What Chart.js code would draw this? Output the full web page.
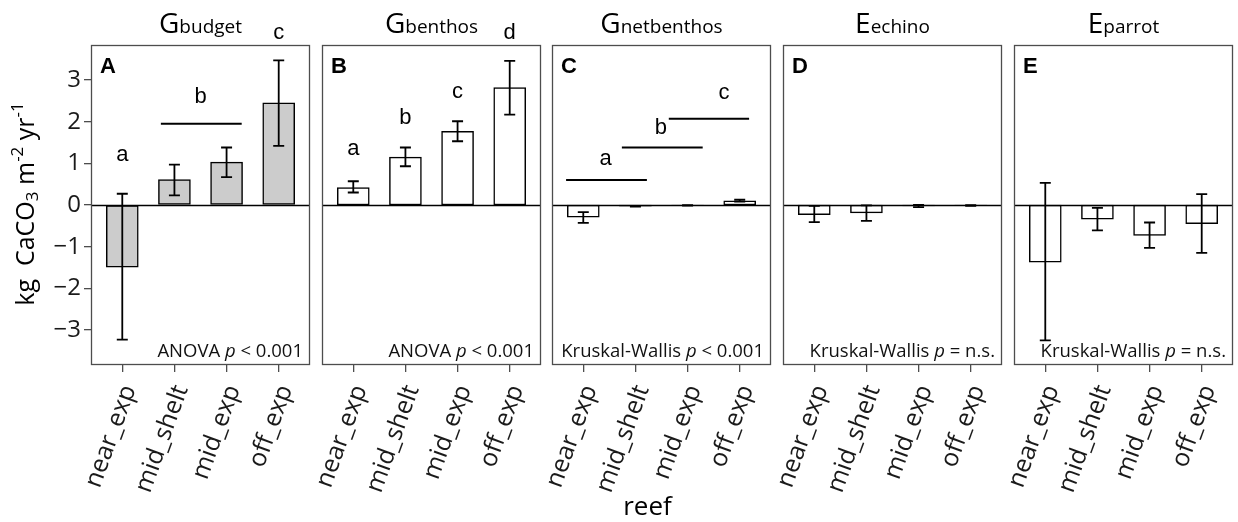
<!DOCTYPE html>
<html>
<head>
<meta charset="utf-8">
<script src="https://cdn.jsdelivr.net/npm/chart.js@4/dist/chart.umd.min.js"></script>
<style>
  html, body { margin: 0; padding: 0; background: #fff; }
  #wrap { position: relative; width: 1238px; height: 522px; overflow: hidden; }
  #wrap canvas { position: absolute; top: 0; }
</style>
</head>
<body>
<div id="wrap"></div>
<script>
// ── DATA ─────────────────────────────────────────────────────
const reefs = ['near_exp', 'mid_shelt', 'mid_exp', 'off_exp'];
const yTicks = [-3, -2, -1, 0, 1, 2, 3];

// A  G budget
const budgetMean = [-1.49, 0.61, 1.03, 2.45];
const budgetLo   = [-3.23, 0.23, 0.67, 1.42];
const budgetHi   = [ 0.27, 0.97, 1.38, 3.47];
// B  G benthos
const benthosMean = [0.42, 1.15, 1.77, 2.82];
const benthosLo   = [0.30, 0.93, 1.53, 2.17];
const benthosHi   = [0.57, 1.38, 2.01, 3.46];
// C  G netbenthos
const netMean = [-0.29, -0.03, -0.01, 0.10];
const netLo   = [-0.43, -0.04, -0.015, 0.08];
const netHi   = [-0.17, -0.02, -0.005, 0.13];
// D  E echino
const echinoMean = [-0.23, -0.19, -0.02, -0.01];
const echinoLo   = [-0.41, -0.38, -0.05, -0.02];
const echinoHi   = [-0.02, -0.01,  0.00, -0.005];
// E  E parrot
const parrotMean = [-1.37, -0.34, -0.73, -0.45];
const parrotLo   = [-3.25, -0.61, -1.03, -1.15];
const parrotHi   = [ 0.53, -0.07, -0.42,  0.26];

// group letters (x in category units, y in data units = text centre)
const budgetLetters = ['a', 'b', 'c'];
const budgetLetterX = [1, 2.5, 4];
const budgetLetterY = [1.21, 2.6, 4.12];
const budgetLineX1 = [1.74];
const budgetLineX2 = [3.29];
const budgetLineY  = [1.95];

const benthosLetters = ['a', 'b', 'c', 'd'];
const benthosLetterX = [1, 2, 3, 4];
const benthosLetterY = [1.35, 2.09, 2.72, 4.13];

const netLetters = ['a', 'b', 'c'];
const netLetterX = [1.43, 2.49, 3.7];
const netLetterY = [1.11, 1.86, 2.70];
const netLineX1 = [0.67, 1.74, 2.64];
const netLineX2 = [2.22, 3.29, 4.18];
const netLineY  = [0.60, 1.38, 2.07];

const panelTags   = ['A', 'B', 'C', 'D', 'E'];
const titleMain   = ['G', 'G', 'G', 'E', 'E'];
const titleSub    = ['budget', 'benthos', 'netbenthos', 'echino', 'parrot'];
const statTest    = ['ANOVA', 'ANOVA', 'Kruskal-Wallis', 'Kruskal-Wallis', 'Kruskal-Wallis'];
const statResult  = ['< 0.001', '< 0.001', '< 0.001', '= n.s.', '= n.s.'];

// ── LAYOUT ───────────────────────────────────────────────────
const PLOT_TOP = 45, PLOT_BOTTOM = 365, PLOT_W = 219, CANVAS_H = 522;
const PLOT_LEFT = [91, 322, 552, 783, 1014];
const Y_MIN = -3.84, Y_MAX = 3.84;
const FONT_UI = '"Open Sans", sans-serif';
const FONT_ARIAL = '"Liberation Sans", Arial, sans-serif';

const panels = [
  { mean: budgetMean,  lo: budgetLo,  hi: budgetHi,  fill: '#cccccc',
    letters: budgetLetters, lx: budgetLetterX, ly: budgetLetterY,
    lineX1: budgetLineX1, lineX2: budgetLineX2, lineY: budgetLineY },
  { mean: benthosMean, lo: benthosLo, hi: benthosHi, fill: '#ffffff',
    letters: benthosLetters, lx: benthosLetterX, ly: benthosLetterY,
    lineX1: [], lineX2: [], lineY: [] },
  { mean: netMean,     lo: netLo,     hi: netHi,     fill: '#ffffff',
    letters: netLetters, lx: netLetterX, ly: netLetterY,
    lineX1: netLineX1, lineX2: netLineX2, lineY: netLineY },
  { mean: echinoMean,  lo: echinoLo,  hi: echinoHi,  fill: '#ffffff',
    letters: [], lx: [], ly: [], lineX1: [], lineX2: [], lineY: [] },
  { mean: parrotMean,  lo: parrotLo,  hi: parrotHi,  fill: '#ffffff',
    letters: [], lx: [], ly: [], lineX1: [], lineX2: [], lineY: [] },
];

// ── TEXT HELPERS ─────────────────────────────────────────────
// runs: [{ text, font, dy }] drawn on one baseline
function drawRuns(ctx, runs, x, y, align) {
  let total = 0;
  runs.forEach(r => { ctx.font = r.font; r.w = ctx.measureText(r.text).width; total += r.w; });
  let cx = align === 'center' ? x - total / 2 : align === 'right' ? x - total : x;
  ctx.textAlign = 'left';
  ctx.textBaseline = 'alphabetic';
  runs.forEach(r => {
    ctx.font = r.font;
    ctx.fillText(r.text, cx, y + (r.dy || 0));
    cx += r.w;
  });
}

// ── PANEL PLUGIN ─────────────────────────────────────────────
function panelPlugin(i) {
  const p = panels[i];
  return {
    id: 'panel' + i,
    afterDatasetsDraw(chart) {
      const { ctx, chartArea: a, scales: { x, y } } = chart;
      ctx.save();
      ctx.strokeStyle = '#000';
      // error bars
      ctx.lineWidth = 1.8;
      p.mean.forEach((m, k) => {
        const px = x.getPixelForValue(k + 1);
        const yl = y.getPixelForValue(p.lo[k]);
        const yh = y.getPixelForValue(p.hi[k]);
        ctx.beginPath();
        ctx.moveTo(px, yl); ctx.lineTo(px, yh);
        ctx.moveTo(px - 5.5, yl); ctx.lineTo(px + 5.5, yl);
        ctx.moveTo(px - 5.5, yh); ctx.lineTo(px + 5.5, yh);
        ctx.stroke();
      });
      // zero line
      ctx.lineWidth = 1.4;
      const y0 = Math.round(y.getPixelForValue(0)) + 0.5;
      ctx.beginPath(); ctx.moveTo(a.left, y0); ctx.lineTo(a.right, y0); ctx.stroke();
      // significance lines
      ctx.lineWidth = 2;
      p.lineY.forEach((v, k) => {
        const py = y.getPixelForValue(v);
        ctx.beginPath();
        ctx.moveTo(x.getPixelForValue(p.lineX1[k]), py);
        ctx.lineTo(x.getPixelForValue(p.lineX2[k]), py);
        ctx.stroke();
      });
      // panel border
      ctx.strokeStyle = '#4d4d4d';
      ctx.lineWidth = 1.3;
      ctx.strokeRect(a.left + 0.5, a.top + 0.5, a.right - a.left - 1, a.bottom - a.top - 1);
      ctx.restore();
    },
    afterDraw(chart) {
      const { ctx, chartArea: a, scales: { x, y } } = chart;
      ctx.save();
      ctx.fillStyle = '#000';
      // group letters
      ctx.font = '22px ' + FONT_ARIAL;
      ctx.textAlign = 'center';
      ctx.textBaseline = 'middle';
      p.letters.forEach((t, k) => {
        ctx.fillText(t, x.getPixelForValue(p.lx[k]), y.getPixelForValue(p.ly[k]));
      });
      // panel tag
      ctx.font = 'bold 22px ' + FONT_ARIAL;
      ctx.textAlign = 'left';
      ctx.textBaseline = 'alphabetic';
      ctx.fillText(panelTags[i], a.left + 9, a.top + 28);
      // stats text
      ctx.fillStyle = '#111';
      drawRuns(ctx, [
        { text: statTest[i] + ' ', font: '18.5px ' + FONT_UI },
        { text: 'p', font: 'italic 18.5px ' + FONT_UI },
        { text: ' ' + statResult[i], font: '18.5px ' + FONT_UI },
      ], a.right - 7, a.bottom - 8, 'right');
      // strip title
      ctx.fillStyle = '#000';
      drawRuns(ctx, [
        { text: titleMain[i], font: '28px ' + FONT_UI },
        { text: titleSub[i], font: '19px ' + FONT_UI },
      ], (a.left + a.right) / 2, 33, 'center');
      // y-axis title (panel A only)
      if (i === 0) {
        ctx.save();
        ctx.translate(34, 204);
        ctx.rotate(-Math.PI / 2);
        drawRuns(ctx, [
          { text: 'kg  CaCO', font: '25px ' + FONT_UI },
          { text: '3', font: '17px ' + FONT_UI, dy: 4 },
          { text: ' m', font: '25px ' + FONT_UI },
          { text: '-2', font: '17px ' + FONT_UI, dy: -11 },
          { text: ' yr', font: '25px ' + FONT_UI },
          { text: '-1', font: '17px ' + FONT_UI, dy: -11 },
        ], 0, 0, 'center');
        ctx.restore();
      }
      // x-axis title (drawn under the middle panel)
      if (i === 2) {
        ctx.font = '26px ' + FONT_UI;
        ctx.textAlign = 'center';
        ctx.textBaseline = 'alphabetic';
        ctx.fillText('reef', (a.left + a.right) / 2 - 14, 515);
      }
      ctx.restore();
    },
  };
}

// ── BUILD CHARTS ─────────────────────────────────────────────
const wrap = document.getElementById('wrap');
panels.forEach((p, i) => {
  const left = PLOT_LEFT[i];
  const canvasLeft = i === 0 ? 0 : left - 45;
  const padRight = 12;
  const canvas = document.createElement('canvas');
  canvas.width = left - canvasLeft + PLOT_W + padRight;
  canvas.height = CANVAS_H;
  canvas.style.left = canvasLeft + 'px';
  wrap.appendChild(canvas);

  new Chart(canvas, {
    type: 'bar',
    data: {
      datasets: [{
        data: p.mean.map((v, k) => ({ x: k + 1, y: v })),
        backgroundColor: p.fill,
        borderColor: '#000',
        borderWidth: 1.5,
        borderSkipped: false,
        barThickness: 32,
      }],
    },
    options: {
      responsive: false,
      animation: false,
      devicePixelRatio: 1,
      layout: { padding: { left: i === 0 ? 0 : left - canvasLeft, right: padRight, top: PLOT_TOP, bottom: 0 } },
      plugins: { legend: { display: false }, tooltip: { enabled: false } },
      scales: {
        x: {
          type: 'linear',
          min: 0.4,
          max: 4.6,
          offset: false,
          afterBuildTicks: s => { s.ticks = reefs.map((_, k) => ({ value: k + 1 })); },
          afterFit: s => { s.height = CANVAS_H - PLOT_BOTTOM; s.paddingLeft = 0; s.paddingRight = 0; },
          grid: { display: true, offset: false, drawOnChartArea: false, drawTicks: true, tickLength: 7, color: '#4d4d4d', lineWidth: 1.3 },
          border: { display: false },
          ticks: {
            autoSkip: false,
            minRotation: 70,
            maxRotation: 70,
            padding: 9,
            labelOffset: 7,
            color: '#1a1a1a',
            font: { family: FONT_UI, size: 25 },
            callback: v => reefs[v - 1],
          },
        },
        y: {
          min: Y_MIN,
          max: Y_MAX,
          display: i === 0,
          afterBuildTicks: s => { s.ticks = yTicks.map(v => ({ value: v })); },
          afterFit: s => { if (i === 0) s.width = PLOT_LEFT[0]; },
          grid: { display: true, drawOnChartArea: false, drawTicks: true, tickLength: 7, color: '#4d4d4d', lineWidth: 1.3 },
          border: { display: false },
          ticks: {
            padding: 3,
            color: '#1a1a1a',
            font: { family: FONT_UI, size: 24 },
            callback: v => (v < 0 ? '\u2212' + Math.abs(v) : String(v)),
          },
        },
      },
    },
    plugins: [panelPlugin(i)],
  });
});
</script>
</body>
</html>
